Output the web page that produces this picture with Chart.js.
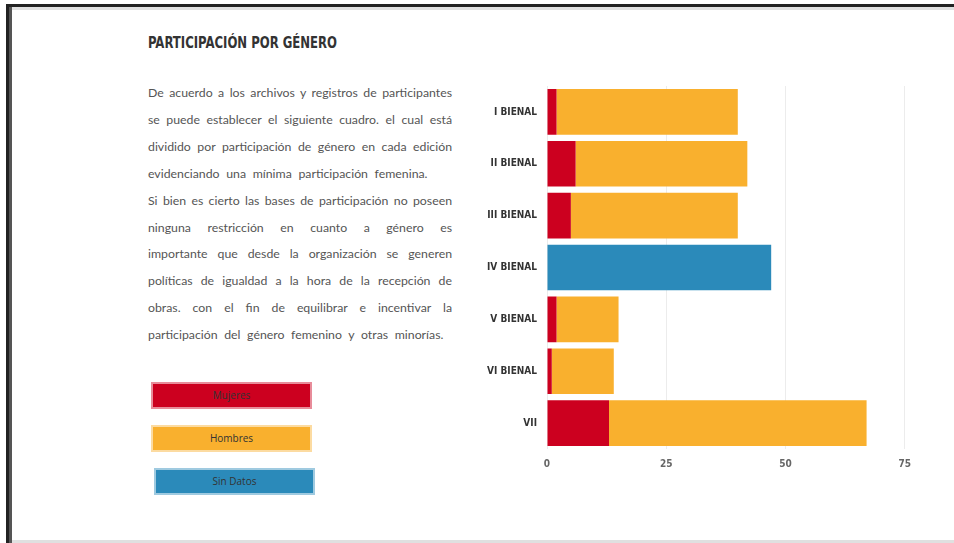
<!DOCTYPE html>
<html>
<head>
<meta charset="utf-8">
<script src="https://cdn.jsdelivr.net/npm/chart.js@4"></script>
<style>
  html, body { margin:0; padding:0; background:#fff; width:954px; height:543px; overflow:hidden; position:relative; }
  .ln { position:absolute; }
  #title { position:absolute; left:148px; top:33px; font-family:"DejaVu Sans Condensed",sans-serif; font-weight:bold; font-size:16px; color:#333; transform-origin:left top; white-space:nowrap; }
  #text { position:absolute; left:148px; top:80px; width:304px; font-family:"Lato",sans-serif; font-size:12.3px; color:#555; line-height:26.9px; }
  #text div { white-space:nowrap; text-align:justify; text-align-last:justify; }
  #text div.last { text-align-last:left; word-spacing:3.5px; }
  #legend { position:absolute; left:0; top:0; }
  .lg { position:absolute; width:157px; height:23px; font-family:"Open Sans",sans-serif; font-size:10px; color:#333; text-align:center; line-height:23px; }
  #wrap { position:absolute; left:470px; top:70px; width:450px; height:410px; }
</style>
</head>
<body>
<div class="ln" style="left:6px;top:4px;width:3px;height:539px;background:#222"></div>
<div class="ln" style="left:9px;top:4px;width:3px;height:539px;background:#555"></div>
<div class="ln" style="left:9px;top:4px;width:945px;height:3px;background:#222"></div>
<div class="ln" style="left:12px;top:7px;width:942px;height:3px;background:#e0e0e0"></div>
<div class="ln" style="left:12px;top:540px;width:942px;height:3px;background:#e0e0e0"></div>

<div id="title">PARTICIPACIÓN POR GÉNERO</div>
<div id="text">
  <div>De acuerdo a los archivos y registros de participantes</div>
  <div>se puede establecer el siguiente cuadro. el cual está</div>
  <div>dividido por participación de género en cada edición</div>
  <div class="last">evidenciando una mínima participación femenina.</div>
  <div>Si bien es cierto las bases de participación no poseen</div>
  <div>ninguna restricción en cuanto a género es</div>
  <div>importante que desde la organización se generen</div>
  <div>políticas de igualdad a la hora de la recepción de</div>
  <div>obras. con el fin de equilibrar e incentivar la</div>
  <div class="last">participación del género femenino y otras minorías.</div>
</div>
<div id="legend"></div>
<div id="wrap"><canvas id="c"></canvas></div>

<script>
const categories = ["I BIENAL", "II BIENAL", "III BIENAL", "IV BIENAL", "V BIENAL", "VI BIENAL", "VII"];
const mujeres   = [2, 6, 5, 0, 2, 1, 13];
const hombres   = [38, 36, 35, 0, 13, 13, 54];
const sinDatos  = [0, 0, 0, 47, 0, 0, 0];
const xTicks    = [0, 25, 50, 75];
const seriesNames = ["Mujeres", "Hombres", "Sin Datos"];

const colors = ["#cc001f", "#f9b02e", "#2b8aba"];
const halos  = ["rgba(204,0,31,0.45)", "rgba(249,176,46,0.45)", "rgba(43,138,186,0.45)"];
const seriesData = [mujeres, hombres, sinDatos];

// fit the title to the reference width
const t = document.getElementById('title');
t.style.transform = 'scaleX(' + (189 / t.getBoundingClientRect().width) + ')';

const datasets = seriesNames.map((n, i) => ({
  label: n,
  data: seriesData[i],
  backgroundColor: colors[i],
  borderColor: halos[i],
  borderWidth: 0,
  categoryPercentage: 0.88,
  barPercentage: 1.0
}));

const chart = new Chart(document.getElementById('c'), {
  type: 'bar',
  data: { labels: categories, datasets },
  options: {
    indexAxis: 'y',
    responsive: true,
    maintainAspectRatio: false,
    animation: false,
    layout: { padding: { top: 12, right: 14, bottom: 0, left: 0 } },
    plugins: { legend: { display: false }, tooltip: { enabled: false } },
    scales: {
      x: {
        stacked: true,
        min: 0, max: 75,
        afterBuildTicks: s => { s.ticks = xTicks.map(v => ({ value: v })); },
        grid: { color: '#ececec', lineWidth: 1, drawTicks: false },
        border: { display: false },
        ticks: { color: '#666', padding: 9, font: { family: '"DejaVu Sans Condensed",sans-serif', size: 10, weight: 'bold' } },
        afterFit: s => { s.height = 31; }
      },
      y: {
        stacked: true,
        grid: { display: false, drawTicks: false },
        border: { display: false },
        ticks: { color: '#333', padding: 10, font: { family: '"DejaVu Sans Condensed",sans-serif', size: 10, weight: 'bold' } },
        afterFit: s => { s.width = 77; }
      }
    }
  }
});

// HTML legend built from the chart's datasets
const legendPos = [[153, 384], [153, 427], [156, 470]];
const lg = document.getElementById('legend');
chart.data.datasets.forEach((ds, i) => {
  const d = document.createElement('div');
  d.className = 'lg';
  d.style.left = legendPos[i][0] + 'px';
  d.style.top = legendPos[i][1] + 'px';
  d.style.background = ds.backgroundColor;
  d.style.boxShadow = '0 0 0 2px ' + ds.borderColor;
  d.textContent = ds.label;
  lg.appendChild(d);
});
</script>
</body>
</html>
